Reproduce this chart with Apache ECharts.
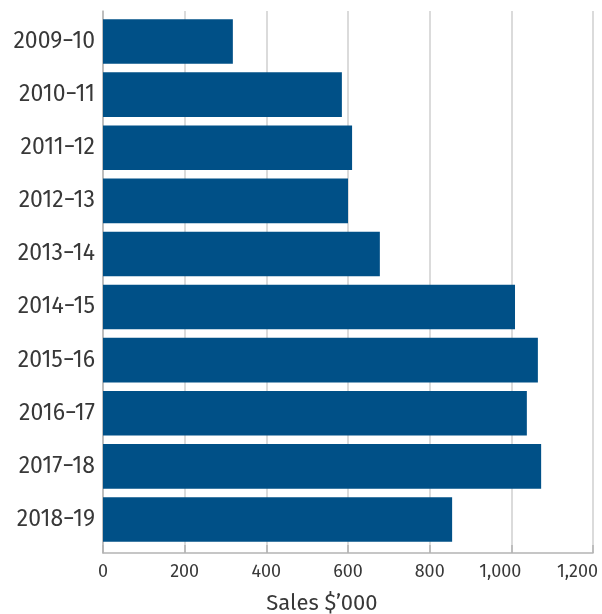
<!DOCTYPE html>
<html>
<head>
<meta charset="utf-8">
<script src="https://cdn.jsdelivr.net/npm/echarts@6/dist/echarts.min.js"></script>
<style>
  html, body { margin: 0; padding: 0; background: #fff; }
  #chart { width: 602px; height: 614px; }
</style>
</head>
<body>
<div id="chart"></div>
<script>
// Financial years, top to bottom
const years = ['2009\u221210', '2010\u221211', '2011\u221212', '2012\u221213', '2013\u221214',
               '2014\u221215', '2015\u221216', '2016\u221217', '2017\u221218', '2018\u221219'];
// Sales in $'000
const sales = [318, 585, 610, 600, 678, 1009, 1065, 1038, 1073, 855];
// Value axis
const xMin = 0;
const xMax = 1200;
const xStep = 200;
const xTitle = 'Sales $\u2019000';

const FONT = '"Fira Sans", "Noto Sans", sans-serif';
const TEXT = '#383838';
const GRID_LINE = '#cfcfcf';
const AXIS_LINE = '#b4b4b4';

const chart = echarts.init(document.getElementById('chart'), null, { renderer: 'canvas' });

// four-digit tick labels sit a little left of their gridline
function tickLabel(v) {
  const s = v.toLocaleString('en-US');
  if (v >= 1200) return '{far|' + s + '}';
  if (v >= 1000) return '{wide|' + s + '}';
  return '{n|' + s + '}';
}

const tickText = { color: TEXT, fontFamily: FONT, fontSize: 18 };

chart.setOption({
  animation: false,
  backgroundColor: '#fff',
  grid: [
    // frame: gridlines, axis lines, tick labels
    { left: 103, right: 9, top: 11, bottom: 61, containLabel: false, outerBoundsMode: 'none' },
    // bars and category labels
    { left: 103, right: 9, top: 15, bottom: 68, containLabel: false, outerBoundsMode: 'none' }
  ],
  xAxis: [
    {
      gridIndex: 0,
      type: 'value',
      min: xMin, max: xMax, interval: xStep,
      axisLine: { show: true, lineStyle: { color: AXIS_LINE, width: 1.5 } },
      axisTick: { show: true, inside: true, length: 8, lineStyle: { color: AXIS_LINE, width: 1.5 } },
      splitLine: { show: true, lineStyle: { color: GRID_LINE, width: 1.5 } },
      axisLabel: {
        ...tickText,
        margin: 10,
        formatter: tickLabel,
        rich: {
          n: { ...tickText },
          wide: { ...tickText, padding: [0, 22, 0, 0] },
          far: { ...tickText, padding: [0, 31, 0, 0] }
        }
      },
      name: xTitle,
      nameLocation: 'middle',
      nameGap: 40,
      nameTextStyle: { color: TEXT, fontFamily: FONT, fontSize: 22, padding: [0, 52, 0, 0] }
    },
    {
      gridIndex: 1,
      type: 'value',
      min: xMin, max: xMax, interval: xStep,
      show: false
    }
  ],
  yAxis: [
    {
      gridIndex: 0,
      type: 'category',
      data: years,
      inverse: true,
      axisLine: { show: true, lineStyle: { color: AXIS_LINE, width: 1.5 } },
      axisTick: { show: false },
      axisLabel: { show: false },
      splitLine: { show: false }
    },
    {
      gridIndex: 1,
      type: 'category',
      data: years,
      inverse: true,
      axisLine: { show: false },
      axisTick: { show: false },
      splitLine: { show: false },
      axisLabel: { color: TEXT, fontFamily: FONT, fontSize: 23, margin: 8 }
    }
  ],
  series: [
    {
      type: 'bar',
      xAxisIndex: 1,
      yAxisIndex: 1,
      data: sales,
      barCategoryGap: '16%',
      itemStyle: { color: '#005087' }
    }
  ]
});
</script>
</body>
</html>
